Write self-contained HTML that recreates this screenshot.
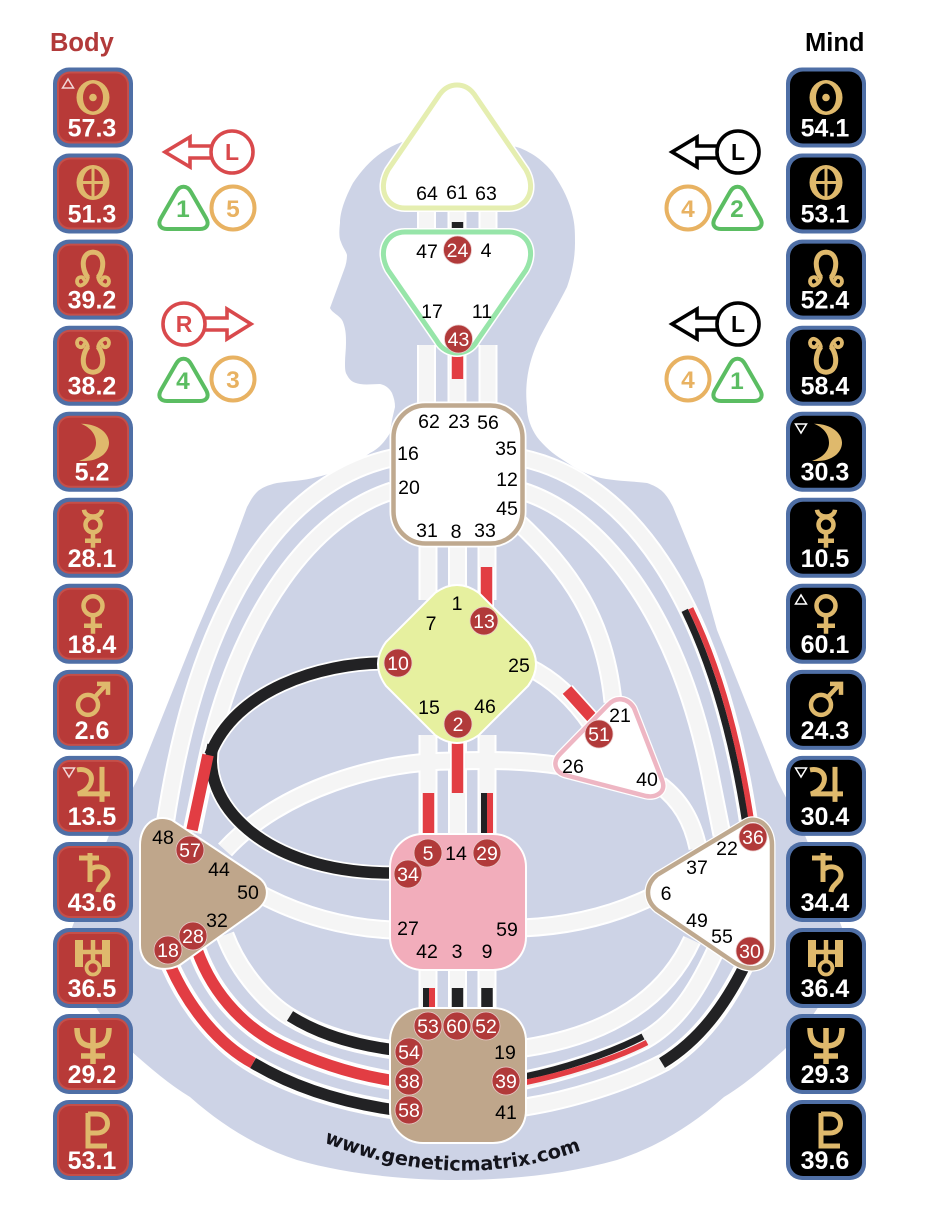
<!DOCTYPE html>
<html><head><meta charset="utf-8"><style>
html,body{margin:0;padding:0;background:#fff}
svg{display:block}
text{font-family:"Liberation Sans",Arial,sans-serif}
.g text,text.g{font-size:19.5px;fill:#000;text-anchor:middle}
.c circle{fill:#b13a3a;stroke:#e9c9c9;stroke-width:.8}
.c text{font-size:19.5px;fill:#fff;text-anchor:middle}
.n{font-size:25px;font-weight:bold;fill:#fff;text-anchor:middle}
.gl{fill:none;stroke:#dfb96c;stroke-width:4.5;stroke-linecap:butt}
</style></head><body>
<svg xmlns="http://www.w3.org/2000/svg" width="932" height="1228" viewBox="0 0 932 1228">
<defs>
<g id="chs" fill="none">
<path d="M426.500 205V240M457 205V240M488 205V240M426.500 345V410M457 345V410M488 345V410"/>
<path d="M428 540V600M457.500 540V600M487 540V600M428 735V840M457.500 735V840M487 735V840M428 965V1012M457.500 965V1012M487 965V1012"/>
<path d="M522 458C624 480 714 590 749 825"/>
<path d="M522 491C599 515 676 610 709 770L722 835"/>
<path d="M516 520C570 570 605 620 613 702"/>
<path d="M392 458C290 480 200 590 165 825"/>
<path d="M392 491C315 515 238 610 205 770L192 832"/>
<path d="M225 850C280 790 380 760 457 761C490 760 525 760 562 766"/>
<path d="M660 785C680 800 692 820 698 848"/>
<path d="M262 895C300 915 345 928 392 930"/>
<path d="M522 928C570 926 615 915 655 895"/>
<path d="M528 667C555 680 575 700 592 725"/>
<path d="M225 935C240 975 270 1005 290 1017C320 1035 355 1045 395 1050"/>
<path d="M197 950C215 1000 250 1030 280 1045C315 1062 355 1075 395 1081"/>
<path d="M170 965C190 1010 220 1045 255 1065C295 1088 345 1103 395 1110"/>
<path d="M525 1048C590 1038 660 1010 692 940"/>
<path d="M525 1080C560 1073 610 1058 645 1040C680 1020 700 985 718 945"/>
<path d="M525 1107C570 1100 625 1083 665 1062C700 1040 725 1005 745 965"/>
</g>
<g id="actblack" fill="none">
<path d="M457.500 222V234M457.500 988V1012M487 988V1012"/>
<path d="M385 663C320 663 235 690 210 755"/>
<path d="M213 745C200 800 260 873 392 873"/>
<path d="M290 1016C320 1035 355 1045 395 1050"/>
<path d="M253 1063C295 1088 345 1103 395 1110"/>
<path d="M662 1063C700 1040 725 1005 745 965"/>
</g>
<g id="actred" fill="none">
<path d="M457.500 353V379M486.500 567V612M428.500 793V840M457.500 741V793"/>
<path d="M208 755L192 830"/>
<path d="M567 690L594 720"/>
<path d="M197 950C215 1000 250 1030 280 1045C315 1062 355 1075 395 1081"/>
<path d="M170 965C190 1010 220 1045 253 1063"/>
</g>
<g id="boxl"><rect width="80" height="80" rx="16" fill="#4f6fa6"/><rect x="4" y="4" width="72" height="72" rx="13" fill="#c54f49"/><rect x="6" y="6" width="68" height="68" rx="11" fill="#b83a38"/></g>
<g id="boxr"><rect width="80" height="80" rx="16" fill="#4f6fa6"/><rect x="4" y="4" width="72" height="72" rx="13" fill="#000"/></g>
<g id="sun"><path fill="#dfb96c" fill-rule="evenodd" d="M23.500 30a16.500 17.500 0 1 0 33 0a16.500 17.500 0 1 0-33 0ZM30 30a10 14 0 1 1 20 0a10 14 0 1 1-20 0Z"/><circle cx="40" cy="30" r="3.800" fill="#dfb96c"/></g>
<g id="earth"><path fill="#dfb96c" fill-rule="evenodd" d="M23.500 29a16.500 17.500 0 1 0 33 0a16.500 17.500 0 1 0-33 0ZM30 29a10 14 0 1 1 20 0a10 14 0 1 1-20 0Z"/><path d="M40 14V44M27 29H53" stroke="#dfb96c" stroke-width="3" fill="none"/></g>
<g id="nnode" class="gl"><path d="M35 38C28 29 28 13 40 12.500C52 13 52 29 45 38" stroke-width="5"/><path d="M35 37C34 44 28 47 26 45.500C22.500 43 24 37.500 28 37.500C30.500 37.500 31 40 29.500 41" stroke-width="3.800"/><path d="M45 37C46 44 52 47 54 45.500C57.500 43 56 37.500 52 37.500C49.500 37.500 49 40 50.500 41" stroke-width="3.800"/></g>
<g id="snode" class="gl"><path d="M35 21C28 30 28 46 40 46.500C52 46 52 30 45 21" stroke-width="5"/><path d="M35 22C34 15 28 12 26 13.500C22.500 16 24 21.500 28 21.500C30.500 21.500 31 19 29.500 18" stroke-width="3.800"/><path d="M45 22C46 15 52 12 54 13.500C57.500 16 56 21.500 52 21.500C49.500 21.500 49 19 50.500 18" stroke-width="3.800"/></g>
<path id="moon" fill="#dfb96c" d="M28 12C46 12 56 22 56 31C56 42 44 51 26 49C37 46 43 39 43 31C43 23 38 16 28 12Z"/>
<g id="merc" class="gl" stroke-width="4.500"><circle cx="40" cy="27" r="7.500"/><path d="M31 12C32 21 48 21 49 12M40 34V50M32 43H48"/></g>
<g id="venus" class="gl" stroke-width="5"><circle cx="40" cy="22" r="9.500"/><path d="M40 33V50M31 42H49"/></g>
<g id="mars" class="gl" stroke-width="4"><circle cx="35" cy="35" r="10"/><path d="M42 27L54 14M44 14H55V25"/></g>
<g id="jup" class="gl"><path d="M24 14C34 12 40 18 38 26C36 33 30 36 25 38H57M49 11V46" stroke-width="5"/></g>
<g id="sat" class="gl"><path d="M37 11V40M26 16H46M37 28C44 22 55 25 55 33C55 40 46 42 45 50" stroke-width="5"/></g>
<g id="ura" class="gl"><circle cx="40" cy="40" r="6.500" stroke-width="3.800"/><path d="M40 12V34M26 24H54" stroke-width="4.500"/><path d="M26 12V39M53 12V39" stroke-width="8"/></g>
<g id="nep" class="gl"><path d="M24 14C24 28 30 32 40 32C50 32 56 28 56 14M40 14V50M28 42H52" stroke-width="5.500"/></g>
<g id="plu" class="gl"><path d="M35 13V46H54M35 14H44C58 14 58 33 44 33H35" stroke-width="5"/></g>
<path id="tri" fill="#fff" stroke-width="4" d="M176 192C180 185 187 185 191 192L206 218C210 225 206 229 200 229H167C161 229 157 225 161 218Z"/>
<path id="trism" d="M-5.500 4L0-5 5.500 4Z" fill="none" stroke-width="1.500"/>
</defs>

<!-- body silhouette -->
<path fill="#cdd3e6" d="M402 142C380 150 365 165 353 183C345 198 340 212 340 223C339 232 339 238 341 242C343 248 346 251 347 255C347 260 346 265 344 270L330 308C332 313 341 316 343 322C346 330 346 336 346 343C346 350 345 356 345 363C345 368 345 372 347 375C350 381 354 383 360 384C367 385 373 384 380 384C386 385 390 389 392 393C394 398 395 402 395 407L392 420C391 427 390 430 390 433C384 443 378 449 370 453C352 466 335 473 317 477C303 481 290 481 277 483C268 485 261 488 257 492C252 497 250 502 247 507L230 553L197 630L157 730L137 780L110 833L73 925C66 945 64 950 68 958C80 985 105 1025 130 1050C150 1068 170 1085 190 1097C225 1128 260 1148 297 1160C350 1175 410 1180 457 1180C504 1180 564 1175 617 1160C654 1148 689 1128 724 1097C744 1085 764 1068 784 1050C809 1025 834 985 846 958C850 950 848 945 841 925L804 833L777 780L757 730L717 630L703 580L673 507C670 501 667 496 663 492C659 488 653 485 647 483C630 481 612 481 597 477C585 474 575 468 563 460C553 454 544 446 537 437C531 428 527 418 527 407C526 397 526 389 527 380C529 364 533 352 540 337C550 318 559 303 567 287C572 273 575 258 575 243C575 234 575 226 573 217C570 202 563 188 553 173C543 160 532 153 520 148L457 130Z"/>

<!-- inactive channels -->
<use href="#chs" stroke="#fff" stroke-width="19"/>
<use href="#chs" stroke="#f5f5f5" stroke-width="15"/>

<!-- active channels -->
<use href="#actblack" stroke="#fff" stroke-width="15"/>
<use href="#actred" stroke="#fff" stroke-width="15"/>
<use href="#actblack" stroke="#222224" stroke-width="11.500"/>
<use href="#actred" stroke="#e23d43" stroke-width="11.500"/>
<path fill="none" stroke="#fff" stroke-width="14.500" d="M687.700 609.300C714.500 664.500 735.700 735.700 749 825"/>
<g fill="none">
<path stroke="#222224" stroke-width="7" d="M684.700 610.300C711.500 665.500 732.700 736.700 746 825"/>
<path stroke="#e23d43" stroke-width="5.500" d="M690.700 608.300C717.500 663.500 738.700 734.700 752 825"/>
<path stroke="#222224" stroke-width="6.500" d="M525 1076.500C560 1069.500 608 1054.500 643 1036.500"/>
<path stroke="#e23d43" stroke-width="5.500" d="M525 1082.500C560 1075.500 612 1060.500 647 1042.500"/>
<path stroke="#222224" stroke-width="6" d="M484 793V840"/><path stroke="#e23d43" stroke-width="6" d="M490 793V840"/>
<path stroke="#222224" stroke-width="6" d="M426 988V1012"/><path stroke="#e23d43" stroke-width="6" d="M432 988V1012"/>
</g>

<!-- centers -->
<path fill="#fff" stroke="#fff" stroke-width="8" d="M405 208H509C527 208 537 190 526 170L474 94C465 82 449 82 440 94L388 170C377 190 387 208 405 208Z"/>
<path fill="#fff" stroke="#e5eeb0" stroke-width="5" d="M405 208H509C527 208 537 190 526 170L474 94C465 82 449 82 440 94L388 170C377 190 387 208 405 208Z"/>
<path fill="#fff" stroke="#fff" stroke-width="8" d="M405 232H509C527 232 537 250 526 270L477 341C468 357 446 357 437 341L388 270C377 250 387 232 405 232Z"/>
<path fill="#fff" stroke="#97e5a9" stroke-width="5" d="M405 232H509C527 232 537 250 526 270L477 341C468 357 446 357 437 341L388 270C377 250 387 232 405 232Z"/>
<rect x="393.500" y="405.500" width="129" height="138" rx="32" fill="#fff" stroke="#fff" stroke-width="8"/>
<rect x="393.500" y="405.500" width="129" height="138" rx="32" fill="#fff" stroke="#bfa98f" stroke-width="4.500"/>
<path fill="#e6f09f" stroke="#fff" stroke-width="2" d="M435 593Q457 577 479 593L528 642Q544 664 528 686L479 735Q457 751 435 735L386 686Q370 664 386 642Z"/>
<path fill="#fff" stroke="#fff" stroke-width="7" d="M608 705C616 696 628 698 634 708L662 780C667 792 656 798 646 796L565 775C555 772 552 762 560 754Z"/>
<path fill="#fff" stroke="#eeb6c3" stroke-width="4.500" d="M608 705C616 696 628 698 634 708L662 780C667 792 656 798 646 796L565 775C555 772 552 762 560 754Z"/>
<path fill="#bfa68b" stroke="#fff" stroke-width="2" d="M140 845C140 825 155 813 172 820L258 877C270 885 270 900 257 910L180 965C160 975 140 965 140 945Z"/>
<path fill="#fff" stroke="#fff" stroke-width="7" d="M772 845C772 825 757 815 745 822L657 875C645 885 645 900 657 910L735 963C755 975 772 965 772 945Z"/>
<path fill="#fff" stroke="#bfa98f" stroke-width="4.500" d="M772 845C772 825 757 815 745 822L657 875C645 885 645 900 657 910L735 963C755 975 772 965 772 945Z"/>
<rect x="390" y="834" width="136" height="136" rx="33" fill="#f2adbb" stroke="#fff" stroke-width="2"/>
<rect x="390" y="1008" width="136" height="135" rx="33" fill="#bfa68b" stroke="#fff" stroke-width="2"/>

<!-- gate numbers -->
<g class="g">
<text x="427" y="200">64</text><text x="457" y="199">61</text><text x="486" y="200">63</text>
<text x="427" y="258">47</text><text x="486" y="257">4</text><text x="432" y="318">17</text><text x="482" y="318">11</text>
<text x="429" y="428">62</text><text x="459" y="428">23</text><text x="488" y="429">56</text>
<text x="408" y="460">16</text><text x="506" y="455">35</text><text x="409" y="494">20</text><text x="507" y="486">12</text><text x="507" y="515">45</text>
<text x="427" y="537">31</text><text x="456" y="538">8</text><text x="485" y="537">33</text>
<text x="457" y="610">1</text><text x="431" y="630">7</text><text x="519" y="672">25</text><text x="429" y="714">15</text><text x="485" y="713">46</text>
<text x="620" y="722">21</text><text x="573" y="773">26</text><text x="647" y="786">40</text>
<text x="163" y="844">48</text><text x="219" y="876">44</text><text x="248" y="899">50</text><text x="217" y="927">32</text>
<text x="456" y="860">14</text><text x="408" y="935">27</text><text x="427" y="958">42</text><text x="457" y="958">3</text><text x="487" y="958">9</text><text x="507" y="936">59</text>
<text x="505" y="1059">19</text><text x="506" y="1119">41</text>
<text x="727" y="855">22</text><text x="697" y="874">37</text><text x="666" y="900">6</text><text x="697" y="927">49</text><text x="722" y="943">55</text>
</g>
<g class="c">
<circle cx="457.500" cy="250" r="14"/><text x="457.500" y="257">24</text>
<circle cx="458.500" cy="339" r="14"/><text x="458.500" y="346">43</text>
<circle cx="484" cy="621" r="14"/><text x="484" y="628">13</text>
<circle cx="398" cy="663" r="14"/><text x="398" y="670">10</text>
<circle cx="458" cy="724" r="14"/><text x="458" y="731">2</text>
<circle cx="599" cy="734" r="14"/><text x="599" y="741">51</text>
<circle cx="190" cy="850" r="14"/><text x="190" y="857">57</text>
<circle cx="193" cy="936" r="14"/><text x="193" y="943">28</text>
<circle cx="168" cy="950" r="14"/><text x="168" y="957">18</text>
<circle cx="428" cy="853" r="14"/><text x="428" y="860">5</text>
<circle cx="408" cy="874" r="14"/><text x="408" y="881">34</text>
<circle cx="487" cy="853" r="14"/><text x="487" y="860">29</text>
<circle cx="428" cy="1026" r="14"/><text x="428" y="1033">53</text>
<circle cx="457" cy="1026" r="14"/><text x="457" y="1033">60</text>
<circle cx="486" cy="1026" r="14"/><text x="486" y="1033">52</text>
<circle cx="409" cy="1052" r="14"/><text x="409" y="1059">54</text>
<circle cx="409" cy="1081" r="14"/><text x="409" y="1088">38</text>
<circle cx="409" cy="1110" r="14"/><text x="409" y="1117">58</text>
<circle cx="506" cy="1081" r="14"/><text x="506" y="1088">39</text>
<circle cx="753" cy="837" r="14"/><text x="753" y="844">36</text>
<circle cx="750" cy="951" r="14"/><text x="750" y="958">30</text>
</g>

<!-- url -->
<path id="arc" d="M323 1142Q455 1195 582 1150" fill="none"/>
<text style="font-family:'DejaVu Sans',sans-serif;font-weight:bold;font-size:19.300px" fill="#14141c"><textPath href="#arc" startOffset="50%" text-anchor="middle">www.geneticmatrix.com</textPath></text>

<!-- headers -->
<text x="50" y="51" font-size="25.500" font-weight="bold" fill="#b23a3a">Body</text>
<text x="805" y="51" font-size="25.500" font-weight="bold" fill="#000">Mind</text>

<!-- left planets -->
<g transform="translate(53,67.500)"><use href="#boxl"/><use href="#sun"/><text class="n" x="39" y="69">57.3</text></g>
<g transform="translate(53,153.500)"><use href="#boxl"/><use href="#earth"/><text class="n" x="39" y="69">51.3</text></g>
<g transform="translate(53,239.600)"><use href="#boxl"/><use href="#nnode"/><text class="n" x="39" y="69">39.2</text></g>
<g transform="translate(53,325.700)"><use href="#boxl"/><use href="#snode"/><text class="n" x="39" y="69">38.2</text></g>
<g transform="translate(53,411.700)"><use href="#boxl"/><use href="#moon"/><text class="n" x="39" y="69">5.2</text></g>
<g transform="translate(53,497.800)"><use href="#boxl"/><use href="#merc"/><text class="n" x="39" y="69">28.1</text></g>
<g transform="translate(53,583.800)"><use href="#boxl"/><use href="#venus"/><text class="n" x="39" y="69">18.4</text></g>
<g transform="translate(53,669.900)"><use href="#boxl"/><use href="#mars"/><text class="n" x="39" y="69">2.6</text></g>
<g transform="translate(53,755.900)"><use href="#boxl"/><use href="#jup"/><text class="n" x="39" y="69">13.5</text></g>
<g transform="translate(53,842)"><use href="#boxl"/><use href="#sat"/><text class="n" x="39" y="69">43.6</text></g>
<g transform="translate(53,928)"><use href="#boxl"/><use href="#ura"/><text class="n" x="39" y="69">36.5</text></g>
<g transform="translate(53,1014)"><use href="#boxl"/><use href="#nep"/><text class="n" x="39" y="69">29.2</text></g>
<g transform="translate(53,1100)"><use href="#boxl"/><use href="#plu"/><text class="n" x="39" y="69">53.1</text></g>
<!-- right planets -->
<g transform="translate(786,67.500)"><use href="#boxr"/><use href="#sun"/><text class="n" x="39" y="69">54.1</text></g>
<g transform="translate(786,153.500)"><use href="#boxr"/><use href="#earth"/><text class="n" x="39" y="69">53.1</text></g>
<g transform="translate(786,239.600)"><use href="#boxr"/><use href="#nnode"/><text class="n" x="39" y="69">52.4</text></g>
<g transform="translate(786,325.700)"><use href="#boxr"/><use href="#snode"/><text class="n" x="39" y="69">58.4</text></g>
<g transform="translate(786,411.700)"><use href="#boxr"/><use href="#moon"/><text class="n" x="39" y="69">30.3</text></g>
<g transform="translate(786,497.800)"><use href="#boxr"/><use href="#merc"/><text class="n" x="39" y="69">10.5</text></g>
<g transform="translate(786,583.800)"><use href="#boxr"/><use href="#venus"/><text class="n" x="39" y="69">60.1</text></g>
<g transform="translate(786,669.900)"><use href="#boxr"/><use href="#mars"/><text class="n" x="39" y="69">24.3</text></g>
<g transform="translate(786,755.900)"><use href="#boxr"/><use href="#jup"/><text class="n" x="39" y="69">30.4</text></g>
<g transform="translate(786,842)"><use href="#boxr"/><use href="#sat"/><text class="n" x="39" y="69">34.4</text></g>
<g transform="translate(786,928)"><use href="#boxr"/><use href="#ura"/><text class="n" x="39" y="69">36.4</text></g>
<g transform="translate(786,1014)"><use href="#boxr"/><use href="#nep"/><text class="n" x="39" y="69">29.3</text></g>
<g transform="translate(786,1100)"><use href="#boxr"/><use href="#plu"/><text class="n" x="39" y="69">39.6</text></g>
<!-- small markers -->
<use href="#trism" transform="translate(68,84)" stroke="#f2d6d6"/>
<use href="#trism" transform="translate(69,772) scale(1,-1)" stroke="#f2d6d6"/>
<use href="#trism" transform="translate(801,428) scale(1,-1)" stroke="#fff"/>
<use href="#trism" transform="translate(801,600)" stroke="#fff"/>
<use href="#trism" transform="translate(801,772) scale(1,-1)" stroke="#fff"/>

<!-- arrows left -->
<g fill="#fff" stroke="#d9494c" stroke-width="3.600" stroke-linejoin="miter">
<path d="M211 146H190V137L165 152L190 167V158H211"/><circle cx="232" cy="152" r="21"/>
<path d="M204 318H227V309L251 324L227 339V330H204"/><circle cx="184" cy="324" r="21"/>
</g>
<text x="232" y="160" font-size="23" font-weight="bold" fill="#d9494c" text-anchor="middle">L</text>
<text x="184" y="332" font-size="23" font-weight="bold" fill="#d9494c" text-anchor="middle">R</text>
<!-- arrows right -->
<g fill="#fff" stroke="#000" stroke-width="3.600">
<path d="M718 146H697V137L672 152L697 167V158H718"/><circle cx="738" cy="152" r="21"/>
<path d="M718 318H697V309L672 324L697 339V330H718"/><circle cx="738" cy="324" r="21"/>
</g>
<text x="738" y="160" font-size="23" font-weight="bold" text-anchor="middle">L</text>
<text x="738" y="332" font-size="23" font-weight="bold" text-anchor="middle">L</text>
<!-- lines/color -->
<g stroke="#5bbd62">
<use href="#tri"/><use href="#tri" y="172"/><use href="#tri" x="554"/><use href="#tri" x="554" y="172"/>
</g>
<g fill="#fff" stroke="#e8b262" stroke-width="4">
<circle cx="233" cy="208" r="21.500"/><circle cx="233" cy="379" r="21.500"/><circle cx="688" cy="208" r="21.500"/><circle cx="688" cy="379" r="21.500"/>
</g>
<g font-size="24.500" font-weight="bold" text-anchor="middle">
<text x="183" y="217" fill="#5bbd62">1</text><text x="183" y="389" fill="#5bbd62">4</text><text x="737" y="217" fill="#5bbd62">2</text><text x="737" y="389" fill="#5bbd62">1</text>
<text x="233" y="217" fill="#e8b262">5</text><text x="233" y="388" fill="#e8b262">3</text><text x="688" y="217" fill="#e8b262">4</text><text x="688" y="388" fill="#e8b262">4</text>
</g>
</svg>
</body></html>
